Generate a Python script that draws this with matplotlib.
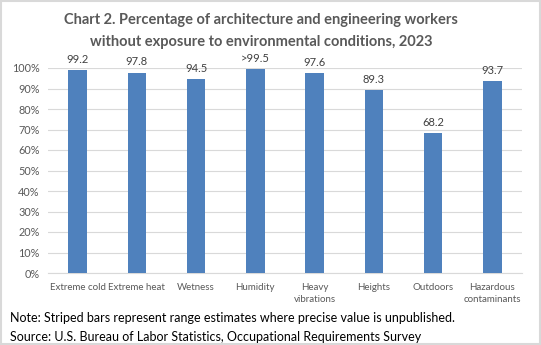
import matplotlib
matplotlib.use("Agg")
import matplotlib.pyplot as plt
from matplotlib.patches import Rectangle

categories = ["Extreme cold", "Extreme heat", "Wetness", "Humidity",
              "Heavy\nvibrations", "Heights", "Outdoors", "Hazardous\ncontaminants"]
values = [99.2, 97.8, 94.5, 99.5, 97.6, 89.3, 68.2, 93.7]
labels = ["99.2", "97.8", "94.5", ">99.5", "97.6", "89.3", "68.2", "93.7"]
yticks = [0, 10, 20, 30, 40, 50, 60, 70, 80, 90, 100]

W, H = 541, 345
fig = plt.figure(figsize=(W / 100, H / 100), dpi=100)
plt.rcParams['font.family'] = ['Lato', 'DejaVu Sans']

# border
fig.add_artist(Rectangle((0.002, 0.003), 0.996, 0.994, transform=fig.transFigure,
                         fill=False, edgecolor='#D9D9D9', linewidth=1.5))

ax = fig.add_axes([48 / W, 1 - 273 / H, (522 - 48) / W, (273 - 68) / H])
x = list(range(len(categories)))
ax.bar(x, values, width=0.31, color='#4F81BD', zorder=3)
for xi, v, lab in zip(x, values, labels):
    ax.text(xi, v + 2.5, lab, ha='center', va='bottom', fontsize=8, color='#404040')

ax.set_xlim(-0.5, len(categories) - 0.5)
ax.set_ylim(0, 100)
ax.set_yticks(yticks)
ax.set_yticklabels([f"{t}%" for t in yticks], fontsize=7.8, color='#595959')
ax.set_xticks(x)
ax.set_xticklabels(categories, fontsize=7, color='#595959', linespacing=1.5)
ax.tick_params(length=0, pad=6)
ax.tick_params(axis='x', pad=7)
ax.grid(axis='y', color='#D9D9D9', linewidth=0.8, zorder=0)
for s in ['top', 'right', 'left']:
    ax.spines[s].set_visible(False)
ax.spines['bottom'].set_color('#D9D9D9')
ax.spines['bottom'].set_linewidth(0.8)

tx = 261 / W
fig.text(tx, 1 - 20 / H, "Chart 2. Percentage of architecture and engineering workers",
         ha='center', va='center', fontsize=10.5, fontweight='bold', color='#595959')
fig.text(tx, 1 - 42 / H, "without exposure to environmental conditions, 2023",
         ha='center', va='center', fontsize=10.5, fontweight='bold', color='#595959')

fig.text(10 / W, 1 - 318 / H, "Note: Striped bars represent range estimates where precise value is unpublished.",
         ha='left', va='center', fontsize=9, color='#000000')
fig.text(10 / W, 1 - 337 / H, "Source: U.S. Bureau of Labor Statistics, Occupational Requirements Survey",
         ha='left', va='center', fontsize=9, color='#000000')

fig.savefig("out.png", dpi=100)
